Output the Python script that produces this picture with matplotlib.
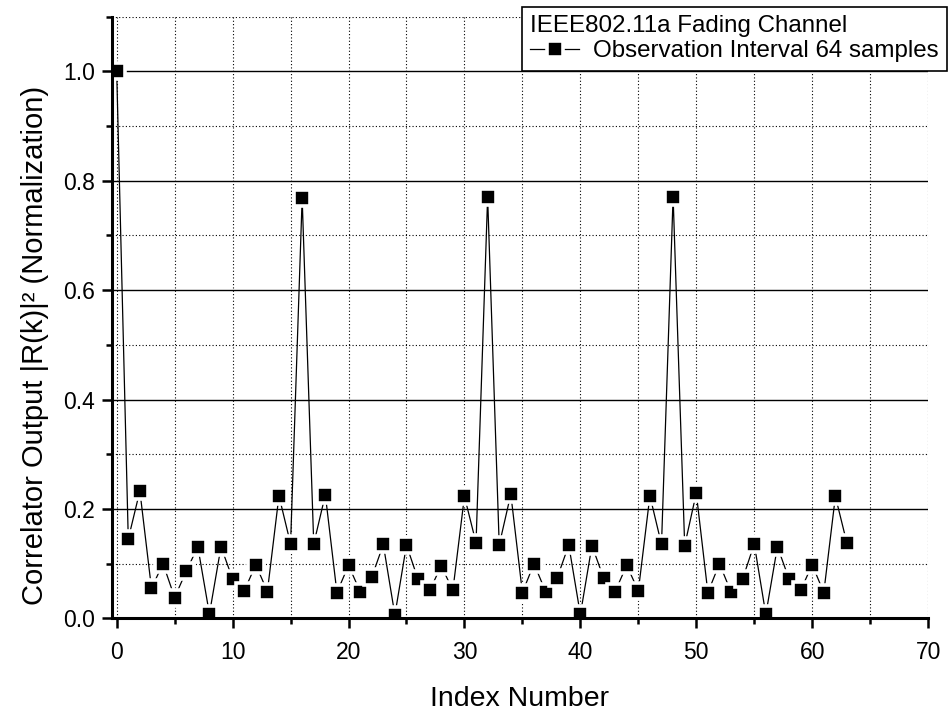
"""
Correlator output vs index number, IEEE802.11a fading channel.
"""

import matplotlib
matplotlib.use('Agg')
import matplotlib.pyplot as plt
from matplotlib.ticker import MultipleLocator, FormatStrFormatter

plt.rcParams['font.family'] = ['Liberation Sans', 'DejaVu Sans']

index_number = list(range(64))
correlator_output = [
    1.000, 0.145, 0.233, 0.055, 0.100, 0.038, 0.086, 0.131,
    0.008, 0.131, 0.072, 0.050, 0.098, 0.049, 0.224, 0.136,
    0.768, 0.136, 0.226, 0.047, 0.097, 0.049, 0.075, 0.135,
    0.006, 0.134, 0.071, 0.051, 0.096, 0.051, 0.223, 0.138,
    0.770, 0.134, 0.227, 0.047, 0.100, 0.049, 0.074, 0.134,
    0.007, 0.133, 0.074, 0.049, 0.097, 0.050, 0.224, 0.135,
    0.771, 0.133, 0.229, 0.047, 0.100, 0.048, 0.072, 0.136,
    0.007, 0.131, 0.072, 0.051, 0.098, 0.047, 0.223, 0.137,
]
series_label = 'Observation Interval 64 samples'
legend_title = 'IEEE802.11a Fading Channel'

fig = plt.figure(figsize=(9.49, 7.13), dpi=100)
ax = fig.add_axes([0.1177, 0.1328, 0.8603, 0.8438])

ax.plot(index_number, correlator_output, color='black', lw=0.9,
        marker='s', markersize=11.0, markerfacecolor='black',
        markeredgecolor='white', markeredgewidth=2.6, label=series_label)

ax.set_xlim(-0.43, 70)
ax.set_ylim(0, 1.1)
ax.xaxis.set_major_locator(MultipleLocator(10))
ax.xaxis.set_minor_locator(MultipleLocator(5))
ax.yaxis.set_major_locator(MultipleLocator(0.2))
ax.yaxis.set_minor_locator(MultipleLocator(0.1))
ax.yaxis.set_major_formatter(FormatStrFormatter('%.1f'))

ax.grid(True, which='major', axis='y', color='black', lw=1.0, ls='-')
ax.grid(True, which='minor', axis='y', color='black', lw=0.8, ls=(0, (1, 2)))
ax.grid(True, which='both', axis='x', color='black', lw=0.8, ls=(0, (1, 2)))
ax.set_axisbelow(True)

for side in ('top', 'right'):
    ax.spines[side].set_visible(False)
for side in ('left', 'bottom'):
    ax.spines[side].set_linewidth(2.2)

ax.tick_params(which='major', direction='out', length=7, width=1.8,
               labelsize=16.5)
ax.tick_params(axis='x', which='major', pad=9)
ax.tick_params(axis='y', which='major', pad=5)
ax.tick_params(which='minor', direction='out', length=4.5, width=1.8)

ax.set_xlabel('Index Number', fontsize=20.5, labelpad=16)
ax.set_ylabel('Correlator Output |R(k)|\u00b2 (Normalization)', fontsize=21)
ax.yaxis.set_label_coords(-0.077, 0.454)

leg = ax.legend(loc='upper left', bbox_to_anchor=(522 / 949, 1 - 7 / 713),
                bbox_transform=fig.transFigure, title=legend_title,
                alignment='left', fontsize=17.4, title_fontsize=17.4,
                frameon=True, fancybox=False, edgecolor='black',
                framealpha=1.0, handlelength=2.0, handletextpad=0.6,
                borderpad=0.35, labelspacing=0.1, borderaxespad=0)
leg.get_frame().set_linewidth(1.2)
leg._legend_box.sep = 2

fig.savefig('out.png', dpi=100)
